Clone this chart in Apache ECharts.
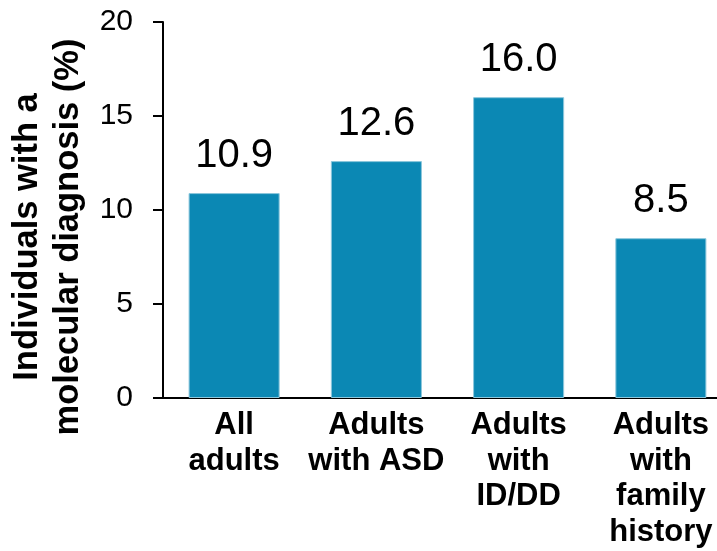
<!DOCTYPE html>
<html><head><meta charset="utf-8">
<script src="https://cdn.jsdelivr.net/npm/echarts@6/dist/echarts.min.js"></script>
<style>html,body{margin:0;padding:0;background:#fff}#c{width:717px;height:551px}</style>
</head><body><div id="c"></div>
<script>
const categories = ['All\nadults', 'Adults\nwith ASD', 'Adults\nwith\nID/DD', 'Adults\nwith\nfamily\nhistory'];
const values = [10.9, 12.6, 16.0, 8.5];
const yTicks = [0, 5, 10, 15, 20];
const yTitle = 'Individuals with a\nmolecular diagnosis (%)';

const FONT = 'Liberation Sans, Arial, sans-serif';
const chart = echarts.init(document.getElementById('c'), null, {renderer: 'canvas'});
chart.setOption({
  animation: false,
  grid: {left: 163, top: 22, height: 376, width: 569, containLabel: false, outerBoundsMode: 'none'},
  xAxis: {
    type: 'category', data: categories,
    axisLine: {lineStyle: {color: '#000', width: 2}},
    axisTick: {show: false},
    axisLabel: {color: '#000', fontFamily: FONT, fontWeight: 'bold', fontSize: 31, lineHeight: 35.5, margin: 10, interval: 0}
  },
  yAxis: {
    type: 'value', min: yTicks[0], max: yTicks[yTicks.length - 1], interval: 5,
    name: yTitle, nameLocation: 'middle', nameRotate: 90, nameGap: 71,
    nameTextStyle: {color: '#000', fontFamily: FONT, fontWeight: 'bold', fontSize: 34.5, lineHeight: 41, padding: [0, 54, 0, 0]},
    axisLine: {show: true, lineStyle: {color: '#000', width: 2}},
    axisTick: {show: true, length: 10, lineStyle: {color: '#000', width: 2}},
    splitLine: {show: false},
    axisLabel: {color: '#000', fontFamily: FONT, fontSize: 30, margin: 30}
  },
  series: [{
    type: 'bar', data: values, barWidth: '64%',
    itemStyle: {color: '#0b88b4', borderColor: '#8cc7dc', borderWidth: 1},
    label: {show: true, position: 'top', distance: 17, color: '#000',
      fontFamily: FONT, fontSize: 40,
      formatter: p => p.value.toFixed(1)}
  }]
});
</script></body></html>
